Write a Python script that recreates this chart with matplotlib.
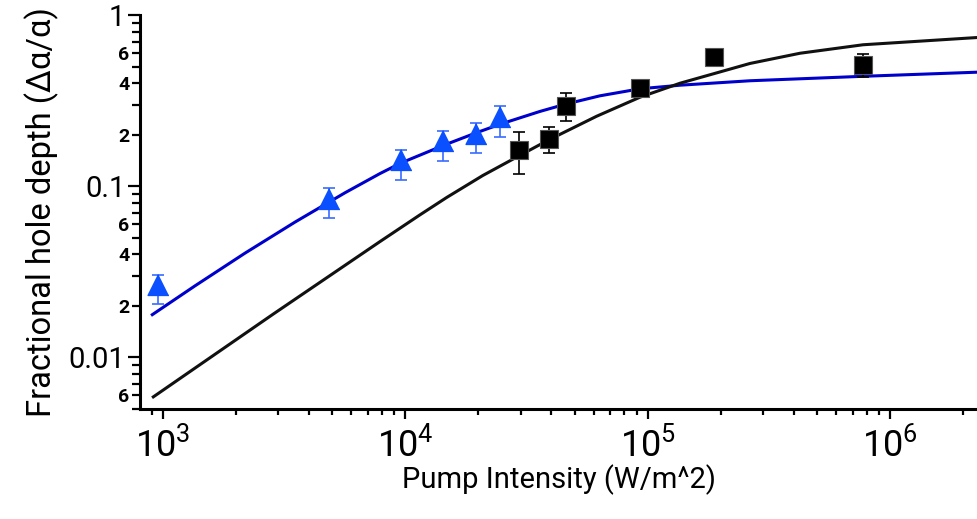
import numpy as np
import matplotlib
matplotlib.use("Agg")
import matplotlib.pyplot as plt
from matplotlib.ticker import LogLocator, FuncFormatter, NullFormatter

plt.rcParams['font.family'] = ['Roboto', 'DejaVu Sans']
plt.rcParams['mathtext.default'] = 'regular'

# blue triangles (measured)
tri_x = [960, 4860, 9620, 14350, 19590, 24600]
tri_y = [0.02545, 0.0812, 0.1361, 0.176, 0.1951, 0.2437]
tri_err = [0.00505, 0.0161, 0.0273, 0.035, 0.0388, 0.0491]

# black squares (measured)
sq_x = [29550, 39080, 46130, 92900, 187700, 774000]
sq_y = [0.1621, 0.1892, 0.2956, 0.3727, 0.5652, 0.5114]
sq_err = [0.0444, 0.0335, 0.0544, 0.02, 0.03, 0.0793]

# fit curves
blue_x = [906, 1358, 2183, 3516, 5649, 7870, 9616, 14590, 19720, 24600,
          35970, 46030, 63530, 92900, 135800, 264200, 772700, 2.28e6]
blue_y = [0.01778, 0.02618, 0.04064, 0.0618, 0.09162, 0.1186, 0.1368, 0.1746,
          0.2056, 0.2301, 0.2735, 0.302, 0.3373, 0.3707, 0.389, 0.413, 0.4385, 0.4634]

black_x = [914.6, 2858, 7874, 11510, 14830, 20890, 29550, 38920, 61620,
           92970, 135900, 264100, 424600, 772300, 2.28e6]
black_y = [0.005885, 0.01793, 0.04753, 0.06808, 0.08598, 0.1155, 0.1508, 0.1859,
           0.2564, 0.3311, 0.3995, 0.5212, 0.5979, 0.6701, 0.7386]

fig = plt.figure(figsize=(9.77, 5.19), dpi=100)
ax = fig.add_axes([140/977, 1-409/519, 837/977, 394/519])

ax.plot(blue_x, blue_y, color='#0000cc', lw=2.2, zorder=2)
ax.plot(black_x, black_y, color='#111111', lw=2.2, zorder=2)

# triangle marker centred on its centroid
tri_marker = [(0, 2/3), (-0.5, -1/3), (0.5, -1/3)]
ax.errorbar(tri_x, tri_y, yerr=tri_err, fmt='none', ecolor='#3a6cff',
            elinewidth=1.2, capsize=4.3, capthick=1.2, zorder=3)
ax.plot(tri_x, tri_y, ls='none', marker=tri_marker, ms=20,
        color='#0a50ff', mec='#0a50ff', zorder=4)

ax.errorbar(sq_x, sq_y, yerr=sq_err, fmt='none', ecolor='black',
            elinewidth=1.2, capsize=4.3, capthick=1.2, zorder=3)
ax.plot(sq_x, sq_y, ls='none', marker='s', ms=13, color='black',
        mec='#555555', mew=0.8, zorder=4)

ax.set_xscale('log')
ax.set_yscale('log')
ax.set_xlim(806, 2.28e6)
ax.set_ylim(0.005, 1.0)

for s in ['top', 'right']:
    ax.spines[s].set_visible(False)
for s in ['left', 'bottom']:
    ax.spines[s].set_linewidth(2.2)


def minor_lab(v, pos):
    m = int(round(v / 10 ** np.floor(np.log10(v) + 1e-9)))
    return str(m) if m in (2, 4, 6) else ''


ax.yaxis.set_major_locator(LogLocator(base=10, numticks=10))
ax.yaxis.set_minor_locator(LogLocator(base=10, subs=np.arange(2, 10), numticks=30))
ax.yaxis.set_major_formatter(FuncFormatter(lambda v, p: '%g' % v))
ax.yaxis.set_minor_formatter(FuncFormatter(minor_lab))

ax.xaxis.set_major_locator(LogLocator(base=10, numticks=10))
ax.xaxis.set_minor_locator(LogLocator(base=10, subs=np.arange(2, 10), numticks=30))
ax.xaxis.set_major_formatter(FuncFormatter(lambda v, p: r'$10^{%d}$' % round(np.log10(v))))
ax.xaxis.set_minor_formatter(NullFormatter())

ax.tick_params(axis='y', which='major', direction='out', length=8.5, width=1.6,
               labelsize=21, pad=2)
ax.tick_params(axis='y', which='minor', direction='out', length=5.5, width=1.6,
               labelsize=14, pad=2)
ax.tick_params(axis='x', which='major', direction='out', length=7.5, width=1.6,
               labelsize=26, pad=5)
ax.tick_params(axis='x', which='minor', direction='out', length=4, width=1.6)
for lab in ax.yaxis.get_minorticklabels():
    lab.set_fontweight('bold')

ax.set_xlabel('Pump Intensity (W/m^2)', fontsize=21, labelpad=0)
ax.set_ylabel('Fractional hole depth (Δα/α)', fontsize=23.5, labelpad=7)

fig.savefig('out.png', dpi=100)
